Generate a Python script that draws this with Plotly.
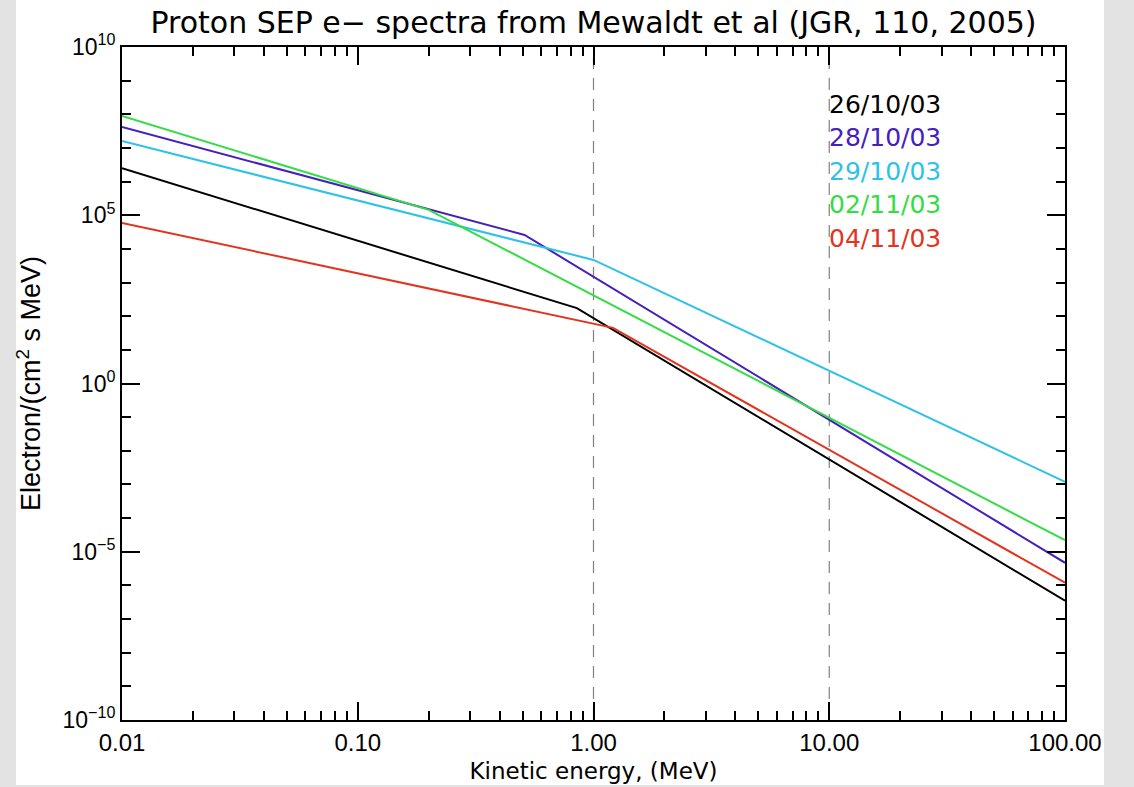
import plotly.graph_objects as go
import numpy as np

# ---- data ----
series_names = ["26/10/03", "28/10/03", "29/10/03", "02/11/03", "04/11/03"]
series_colors = ["#000000", "#4420bf", "#2ec2e6", "#33dd44", "#e2341e"]

energy_2610 = [0.01, 0.85, 100.0]
flux_2610 = [2.5e6, 1.74e2, 3.5e-7]

energy_2810 = [0.01, 0.51, 100.0]
flux_2810 = [4.2e7, 2.6e4, 4.7e-6]

energy_2910 = [0.01, 1.0, 100.0]
flux_2910 = [1.6e7, 4.7e3, 1.2e-3]

energy_0211 = [0.01, 0.2, 100.0]
flux_0211 = [8.9e7, 1.45e5, 2.2e-5]

energy_0411 = [0.01, 1.21, 100.0]
flux_0411 = [5.9e4, 45.0, 1.2e-6]

x_tickvals = [0.01, 0.1, 1.0, 10.0, 100.0]
x_ticktext = ["0.01", "0.10", "1.00", "10.00", "100.00"]
y_tickvals = [1e-10, 1e-5, 1e0, 1e5, 1e10]
y_ticktext = ["10<sup>\u221210</sup>", "10<sup>\u22125</sup>", "10<sup>0</sup>",
              "10<sup>5</sup>", "10<sup>10</sup>"]
ref_energies = [1.0, 10.0]

x_range = [0.01, 100.0]
y_range = [1e-10, 1e10]

energies = [energy_2610, energy_2810, energy_2910, energy_0211, energy_0411]
fluxes = [flux_2610, flux_2810, flux_2910, flux_0211, flux_0411]

fig = go.Figure()

# dashed reference lines
for e in ref_energies:
    fig.add_trace(go.Scatter(x=[e, e], y=y_range, mode="lines",
                             line=dict(color="#808080", width=1.2, dash="12px,9px"),
                             showlegend=False, hoverinfo="skip"))

for name, col, ex, fx in zip(series_names, series_colors, energies, fluxes):
    fig.add_trace(go.Scatter(x=ex, y=fx, mode="lines", name=name,
                             line=dict(color=col, width=2), showlegend=False))

# minor tick positions
x_minor = [k * 10.0 ** p for p in range(-2, 2) for k in range(2, 10)]
y_minor = [10.0 ** p for p in range(-10, 11) if p % 5 != 0]

W, H = 1134, 787
L, R, T, B = 122, 69, 47, 67
pw, ph = W - L - R, H - T - B

def px2paper_x(px):
    return (px - L) / pw

def px2paper_y(py):
    return (H - B - py) / ph

# legend-like labels starting at x = 10 MeV
lx = (np.log10(10.0) - np.log10(x_range[0])) / (np.log10(x_range[1]) - np.log10(x_range[0]))
for i, (name, col) in enumerate(zip(series_names, series_colors)):
    fig.add_annotation(x=lx, y=px2paper_y(104 + 33.6 * i), xref="paper", yref="paper",
                       text=name, showarrow=False, xanchor="left", yanchor="middle",
                       xshift=-2,
                       font=dict(family="DejaVu Sans", size=25, color=col))

# white page area with gray border
fig.add_shape(type="rect", xref="paper", yref="paper", layer="below",
              x0=px2paper_x(16), x1=px2paper_x(1104), y0=px2paper_y(785), y1=px2paper_y(0),
              fillcolor="white", line=dict(width=0))

axis_common = dict(showline=True, linecolor="black", linewidth=2, mirror="ticks",
                   ticks="inside", ticklen=18, tickwidth=1.5, tickcolor="black",
                   showgrid=False, zeroline=False)

fig.update_xaxes(type="log", range=[np.log10(x_range[0]), np.log10(x_range[1])],
                 tickvals=x_tickvals, ticktext=x_ticktext,
                 tickfont=dict(family="Liberation Sans, Arial", size=24, color="black"),
                 minor=dict(tickvals=x_minor, ticks="inside", ticklen=9, tickwidth=1.5, tickcolor="black"),
                 title=dict(text="Kinetic energy, (MeV)", standoff=8,
                            font=dict(family="DejaVu Sans", size=23, color="black")),
                 **axis_common)
fig.update_yaxes(type="log", range=[np.log10(y_range[0]), np.log10(y_range[1])],
                 tickvals=y_tickvals, ticktext=y_ticktext,
                 tickfont=dict(family="Liberation Sans, Arial", size=23, color="black"),
                 minor=dict(tickvals=y_minor, ticks="inside", ticklen=9, tickwidth=1.5, tickcolor="black"),
                 title=dict(text="Electron/(cm<sup>2</sup> s MeV)", standoff=14,
                            font=dict(family="Liberation Sans, Arial", size=27, color="black")),
                 **axis_common)

fig.update_layout(
    width=W, height=H,
    margin=dict(l=L, r=R, t=T, b=B, autoexpand=False),
    paper_bgcolor="#e3e3e3", plot_bgcolor="white",
    title=dict(text="Proton SEP e\u2212 spectra from Mewaldt et al (JGR, 110, 2005)",
               x=0.5, xref="paper", xanchor="center", y=1 - 22 / H, yanchor="middle",
               font=dict(family="DejaVu Sans", size=30, color="black")),
    showlegend=False,
)

fig.write_html("out.html")
